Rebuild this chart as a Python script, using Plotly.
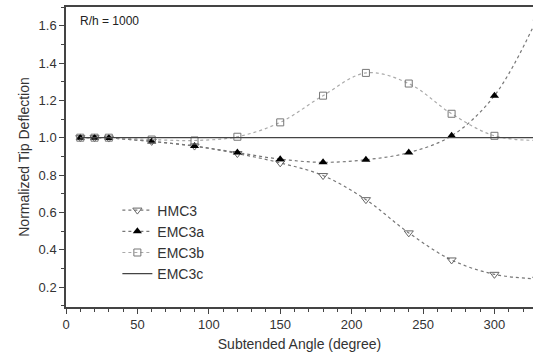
import plotly.graph_objects as go

angles = [10, 20, 30, 60, 90, 120, 150, 180, 210, 240, 270, 300, 330]
hmc3 = [1.0, 1.0, 0.998, 0.98, 0.955, 0.915, 0.865, 0.797, 0.668, 0.49, 0.345, 0.268, 0.243]
emc3a = [1.0, 1.0, 0.998, 0.98, 0.955, 0.92, 0.885, 0.868, 0.882, 0.92, 1.01, 1.225, 1.64]
emc3b = [1.0, 1.0, 1.0, 0.99, 0.985, 1.005, 1.082, 1.225, 1.347, 1.29, 1.128, 1.01, 0.985]
emc3c = [1.0] * len(angles)

fig = go.Figure()
fig.add_trace(go.Scatter(x=angles, y=hmc3, name="HMC3", mode="lines+markers",
                         line=dict(color="#777777", width=1.2, dash="dot", shape="spline"),
                         marker=dict(symbol="triangle-down-open", size=8, color="#666666",
                                     line=dict(width=1))))
fig.add_trace(go.Scatter(x=angles, y=emc3a, name="EMC3a", mode="lines+markers",
                         line=dict(color="#777777", width=1.2, dash="dot", shape="spline"),
                         marker=dict(symbol="triangle-up", size=8, color="#000000")))
fig.add_trace(go.Scatter(x=angles, y=emc3b, name="EMC3b", mode="lines+markers",
                         line=dict(color="#aaaaaa", width=1.2, dash="dot", shape="spline"),
                         marker=dict(symbol="square-open", size=7, color="#777777",
                                     line=dict(width=1))))
fig.add_trace(go.Scatter(x=angles, y=emc3c, name="EMC3c", mode="lines",
                         line=dict(color="#444444", width=1.3)))

fig.add_annotation(x=0.025, y=0.955, xref="paper", yref="paper", text="R/h = 1000",
                   showarrow=False, xanchor="left", yanchor="middle",
                   font=dict(family="Liberation Sans, Arial", size=12, color="#222222"))

fig.update_layout(
    width=533, height=362,
    margin=dict(l=66, r=0, t=7, b=55),
    plot_bgcolor="white", paper_bgcolor="white",
    font=dict(family="Liberation Sans, Arial", size=13, color="#333333"),
    legend=dict(x=0.11, y=0.375, xanchor="left", yanchor="top",
                bgcolor="rgba(0,0,0,0)", font=dict(size=14, color="#333333"),
                tracegroupgap=0, itemsizing="trace"),
    xaxis=dict(range=[0, 327], tick0=0, dtick=50, ticks="outside", ticklen=5,
               showline=True, linecolor="#444444", linewidth=1.5, mirror=True,
               showgrid=False, zeroline=False,
               minor=dict(dtick=10, ticks="outside", ticklen=3, tickcolor="#444444"),
               tickcolor="#444444",
               title=dict(text="Subtended Angle (degree)", font=dict(size=14), standoff=8),
               tickfont=dict(size=13)),
    yaxis=dict(range=[0.093, 1.70], tick0=0.2, dtick=0.2, tickformat=".1f",
               ticks="outside", ticklen=5, showline=True, linecolor="#444444",
               linewidth=1.5, showgrid=False, zeroline=False,
               minor=dict(dtick=0.1, ticks="outside", ticklen=3, tickcolor="#444444"),
               tickcolor="#444444",
               title=dict(text="Normalized Tip Deflection", font=dict(size=14), standoff=6),
               tickfont=dict(size=13)),
)

fig.write_html("out.html")
